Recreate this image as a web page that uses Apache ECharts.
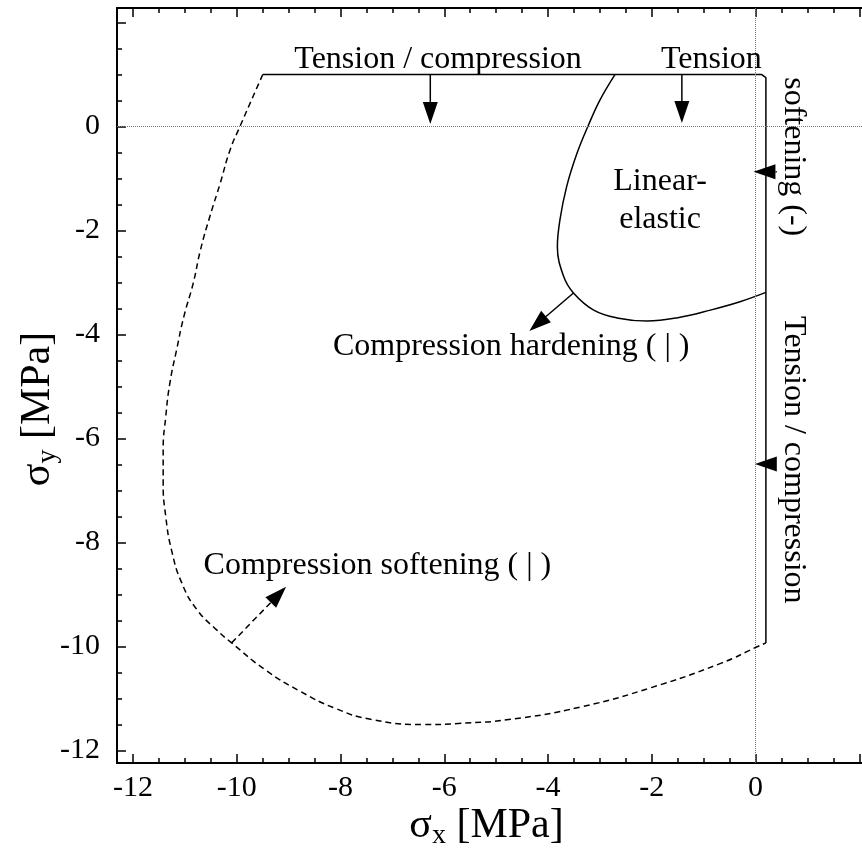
<!DOCTYPE html>
<html><head><meta charset="utf-8">
<script src="https://cdn.jsdelivr.net/npm/echarts@6/dist/echarts.min.js"></script>
<style>html,body{margin:0;padding:0;background:#fff}#c{width:862px;height:850px}</style>
</head><body><div id="c"></div>
<script>
// ---------- data ----------
const outerSolidX = [-9.5, 0.12, 0.2, 0.2];
const outerSolidY = [1.0, 1.0, 0.94, -9.93];

const outerDashedX = [-9.5, -9.94, -10.13, -10.32, -10.52, -10.70, -10.84, -11.02, -11.16, -11.29, -11.37, -11.42, -11.42, -11.37, -11.26, -11.06, -10.77, -10.39, -10.10, -9.45, -8.78, -8.10, -7.42, -6.41, -5.73, -4.72, -3.36, -2.01, -0.66, 0.02, 0.2];
const outerDashedY = [1.0, 0.0, -0.45, -1.09, -1.73, -2.37, -3.01, -3.65, -4.29, -4.93, -5.58, -6.22, -6.86, -7.50, -8.14, -8.78, -9.29, -9.68, -9.93, -10.45, -10.86, -11.19, -11.40, -11.50, -11.48, -11.40, -11.16, -10.79, -10.32, -10.01, -9.93];

const innerX = [-2.71, -3.00, -3.22, -3.44, -3.64, -3.77, -3.82, -3.70, -3.51, -3.12, -2.67, -2.09, -1.52, -0.87, -0.30, 0.2];
const innerY = [1.0, 0.51, 0.03, -0.51, -1.15, -1.79, -2.31, -2.88, -3.20, -3.53, -3.68, -3.74, -3.68, -3.53, -3.37, -3.19];

const arrowFromX = [-6.27, -1.42, 0.41, 0.41, -3.51];
const arrowFromY = [1.0, 1.0, -0.87, -6.49, -3.20];
const arrowToX   = [-6.27, -1.42, -0.04, -0.01, -4.36];
const arrowToY   = [0.05, 0.07, -0.87, -6.49, -3.93];

const dashArrowFromX = [-10.10];
const dashArrowFromY = [-9.93];
const dashArrowToX = [-9.05];
const dashArrowToY = [-8.85];

const noteText = ['Tension / compression', 'Tension', 'Linear-\nelastic', 'softening (-)', 'Tension / compression', 'Compression hardening ( | )', 'Compression softening ( | )'];
const noteX = [-6.12, -0.85, -1.84, 0.74, 0.74, -4.71, -7.29];
const noteY = [1.28, 1.28, -1.42, -0.58, -6.41, -4.24, -8.45];
const noteRotate = [0, 0, 0, -90, -90, 0, 0];

const xMajorTicks = [-12, -10, -8, -6, -4, -2, 0, 2];
const xTickLabels = [-12, -10, -8, -6, -4, -2, 0];
const xMinorTicks = [-12, -11.5, -11, -10.5, -10, -9.5, -9, -8.5, -8, -7.5, -7, -6.5, -6, -5.5, -5, -4.5, -4, -3.5, -3, -2.5, -2, -1.5, -1, -0.5, 0, 0.5, 1, 1.5, 2];
const yMajorTicks = [-12, -10, -8, -6, -4, -2, 0, 2];
const yTickLabels = [-12, -10, -8, -6, -4, -2, 0];
const yMinorTicks = [-12, -11.5, -11, -10.5, -10, -9.5, -9, -8.5, -8, -7.5, -7, -6.5, -6, -5.5, -5, -4.5, -4, -3.5, -3, -2.5, -2, -1.5, -1, -0.5, 0, 0.5, 1, 1.5, 2];

const X_MIN = -12.31, X_MAX = 2.13, Y_MIN = -12.24, Y_MAX = 2.28;

// ---------- build ----------
const pairs = (xs, ys) => xs.map((x, i) => [x, ys[i]]);
const FONT = '"Liberation Serif", "Times New Roman", serif';

function makeX(pos, ticks, len, withLabels, withName) {
  const a = {
    type: 'value', min: X_MIN, max: X_MAX, position: pos,
    axisLine: { show: withLabels || pos === 'top', onZero: false, lineStyle: { color: '#000', width: 2 } },
    axisTick: { show: true, inside: true, length: len, customValues: ticks, lineStyle: { color: '#000', width: 1.5 } },
    axisLabel: { show: withLabels, customValues: xTickLabels, fontSize: 30, fontFamily: FONT, color: '#000', margin: 10 },
    splitLine: { show: false }
  };
  if (withName) {
    a.name = '{s|σ}{b|x}{s| [MPa]}';
    a.nameLocation = 'middle';
    a.nameGap = 39;
    a.nameMoveOverlap = false;
    a.nameTextStyle = {
      color: '#000', fontFamily: FONT, fontSize: 42, padding: [0, 10, 0, 0],
      rich: { s: { fontSize: 42, fontFamily: FONT, color: '#000', lineHeight: 48 },
              b: { fontSize: 28, fontFamily: FONT, color: '#000', lineHeight: 24, verticalAlign: 'bottom' } }
    };
  }
  return a;
}
function makeY(ticks, len, withLabels, withName) {
  const a = {
    type: 'value', min: Y_MIN, max: Y_MAX, position: 'left',
    axisLine: { show: withLabels, onZero: false, lineStyle: { color: '#000', width: 2 } },
    axisTick: { show: true, inside: true, length: len, customValues: ticks, lineStyle: { color: '#000', width: 1.5 } },
    axisLabel: { show: withLabels, customValues: yTickLabels, fontSize: 30, fontFamily: FONT, color: '#000', margin: 17 },
    splitLine: { show: false }
  };
  if (withName) {
    a.name = '{s|σ}{b|y}{s| [MPa]}';
    a.nameLocation = 'middle';
    a.nameGap = 55;
    a.nameMoveOverlap = false;
    a.nameTextStyle = {
      color: '#000', fontFamily: FONT, fontSize: 42, padding: [0, 47, 0, 0],
      rich: { s: { fontSize: 42, fontFamily: FONT, color: '#000', lineHeight: 48 },
              b: { fontSize: 28, fontFamily: FONT, color: '#000', lineHeight: 24, verticalAlign: 'bottom' } }
    };
  }
  return a;
}

function arrowRender(dashed) {
  return function (params, api) {
    const p1 = api.coord([api.value(0), api.value(1)]);
    const p2 = api.coord([api.value(2), api.value(3)]);
    const dx = p2[0] - p1[0], dy = p2[1] - p1[1];
    const L = Math.hypot(dx, dy) || 1;
    const ux = dx / L, uy = dy / L;
    const hl = Math.min(22, L), hw = 7.5;
    const bx = p2[0] - ux * hl, by = p2[1] - uy * hl;
    const children = [];
    if (L > hl) children.push({ type: 'line', shape: { x1: p1[0], y1: p1[1], x2: bx, y2: by },
      style: { stroke: '#000', lineWidth: 1.5, lineDash: dashed ? [6, 4] : null, fill: null } });
    children.push({ type: 'polygon', shape: { points: [[p2[0], p2[1]], [bx - uy * hw, by + ux * hw], [bx + uy * hw, by - ux * hw]] },
      style: { fill: '#000', stroke: null } });
    return { type: 'group', children };
  };
}

const option = {
  backgroundColor: '#fff',
  animation: false,
  grid: { left: 117, right: -4, top: 8, bottom: 87, containLabel: false, outerBoundsMode: 'none' },
  xAxis: [
    makeX('bottom', xMajorTicks, 9, true, true),
    makeX('bottom', xMinorTicks, 5, false, false),
    makeX('top', xMajorTicks, 9, false, false),
    makeX('top', xMinorTicks, 5, false, false)
  ],
  yAxis: [
    makeY(yMajorTicks, 9, true, true),
    makeY(yMinorTicks, 5, false, false)
  ],
  series: [
    {
      type: 'line', data: pairs(outerSolidX, outerSolidY), showSymbol: false, symbol: 'none',
      lineStyle: { color: '#000', width: 1.5 }, z: 3,
      markLine: {
        silent: true, symbol: 'none', label: { show: false },
        lineStyle: { color: '#777', width: 1, type: [1, 1] },
        data: [{ xAxis: 0 }, { yAxis: 0 }]
      }
    },
    {
      type: 'line', data: pairs(outerDashedX, outerDashedY), showSymbol: false, symbol: 'none', smooth: 0.5,
      lineStyle: { color: '#000', width: 1.5, type: [6, 4] }, z: 3
    },
    {
      type: 'line', data: pairs(innerX, innerY), showSymbol: false, symbol: 'none', smooth: 0.4,
      lineStyle: { color: '#000', width: 1.5 }, z: 3
    },
    {
      type: 'custom', coordinateSystem: 'cartesian2d', renderItem: arrowRender(false), z: 4, clip: false,
      data: arrowFromX.map((x, i) => [x, arrowFromY[i], arrowToX[i], arrowToY[i]])
    },
    {
      type: 'custom', coordinateSystem: 'cartesian2d', renderItem: arrowRender(true), z: 4, clip: false,
      data: dashArrowFromX.map((x, i) => [x, dashArrowFromY[i], dashArrowToX[i], dashArrowToY[i]])
    },
    {
      type: 'custom', coordinateSystem: 'cartesian2d', z: 5, clip: false,
      data: pairs(noteX, noteY),
      renderItem: function (params, api) {
        const p = api.coord([api.value(0), api.value(1)]);
        const i = params.dataIndex;
        return { type: 'text', x: p[0], y: p[1], rotation: noteRotate[i] * Math.PI / 180,
          style: { text: noteText[i], fill: '#000', fontSize: 32, fontFamily: FONT, align: 'center', verticalAlign: 'middle', lineHeight: 38 } };
      }
    }
  ]
};
const chart = echarts.init(document.getElementById('c'), null, { renderer: 'canvas' });
chart.setOption(option);
</script></body></html>
